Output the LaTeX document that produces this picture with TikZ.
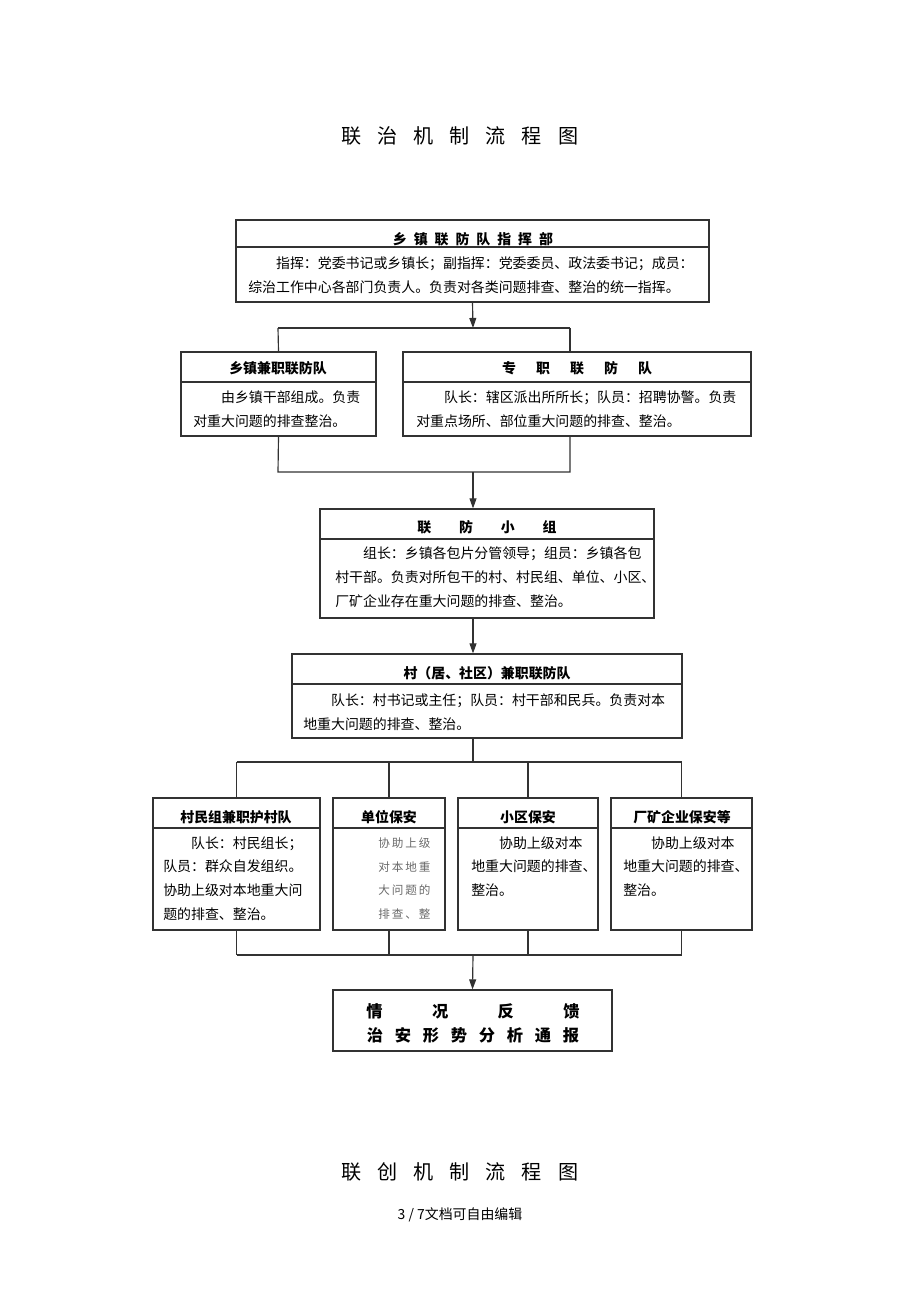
\documentclass[tikz,border=0pt]{standalone}
\usepackage{fontspec}
\usetikzlibrary{arrows.meta}
\usetikzlibrary{fit}
\newfontfamily\cjk{Noto Sans CJK SC}
\definecolor{linegray}{RGB}{50,50,50}
\definecolor{textgray}{RGB}{105,105,105}

\begin{document}
\begin{tikzpicture}[x=0.6468pt, y=-0.6468pt,
    frame/.style={draw=linegray, line width=0.75pt, inner sep=0pt},
    head/.style={font=\cjk\bfseries\fontsize{9}{11}\selectfont, inner sep=0pt},
    body/.style={font=\cjk\fontsize{9}{15.5}\selectfont, align=left, anchor=north west, inner sep=0pt},
    title/.style={font=\cjk\fontsize{13}{15}\selectfont, inner sep=0pt},
    link/.style={draw=linegray, line width=0.75pt},
    arr/.style={link, -{Triangle[width=4.5pt,length=6.5pt]}}]
\useasboundingbox (0,0) rectangle (920,1302);

% page title
\node[title] (title1) at (460,136) {联\hspace{10.3pt}治\hspace{10.3pt}机\hspace{10.3pt}制\hspace{10.3pt}流\hspace{10.3pt}程\hspace{10.3pt}图};

% command post
\node[frame, fit={(236,220) (709,302)}] (hq) {};
\draw[link] (hq.west |- 0,247) -- (hq.east |- 0,247);
\node[head] (hqh) at (473,239) {乡\hspace{4.5pt}镇\hspace{4.5pt}联\hspace{4.5pt}防\hspace{4.5pt}队\hspace{4.5pt}指\hspace{4.5pt}挥\hspace{4.5pt}部};
\node[body] (hqb) at (248,257) {\hspace*{2em}指挥：党委书记或乡镇长；副指挥：党委委员、政法委书记；成员：\\综治工作中心各部门负责人。负责对各类问题排查、整治的统一指挥。};

% second row
\node[frame, fit={(181,352) (376,436)}] (lbox) {};
\draw[link] (lbox.west |- 0,382) -- (lbox.east |- 0,382);
\node[head] (lboxh) at (278,368) {乡镇兼职联防队};
\node[body] (lboxb) at (193,390) {\hspace*{2em}由乡镇干部组成。负责\\对重大问题的排查整治。};

\node[frame, fit={(403,352) (751,436)}] (rbox) {};
\draw[link] (rbox.west |- 0,382) -- (rbox.east |- 0,382);
\node[head] (rboxh) at (577,368) {专\hspace{13pt}职\hspace{13pt}联\hspace{13pt}防\hspace{13pt}队};
\node[body] (rboxb) at (416,390) {\hspace*{2em}队长：辖区派出所所长；队员：招聘协警。负责\\对重点场所、部位重大问题的排查、整治。};

% joint group
\node[frame, fit={(320,509) (654,618)}] (unit) {};
\draw[link] (unit.west |- 0,539) -- (unit.east |- 0,539);
\node[head] (unith) at (487,527) {联\hspace{18pt}防\hspace{18pt}小\hspace{18pt}组};
\node[body] (unitb) at (335,546) {\hspace*{2em}组长：乡镇各包片分管领导；组员：乡镇各包\\村干部。负责对所包干的村、村民组、单位、小区、\\厂矿企业存在重大问题的排查、整治。};

% village team
\node[frame, fit={(292,654) (682,738)}] (vill) {};
\draw[link] (vill.west |- 0,684) -- (vill.east |- 0,684);
\node[head] (villh) at (487,673) {村（居、社区）兼职联防队};
\node[body] (villb) at (303,693) {\hspace*{2em}队长：村书记或主任；队员：村干部和民兵。负责对本\\地重大问题的排查、整治。};

% bottom row
\node[frame, fit={(153,798) (320,930)}] (b1) {};
\node[frame, fit={(333,798) (445,930)}] (b2) {};
\node[frame, fit={(458,798) (598,930)}] (b3) {};
\node[frame, fit={(611,798) (752,930)}] (b4) {};
\foreach \b in {b1,b2,b3,b4}
    \draw[link] (\b.west |- 0,828) -- (\b.east |- 0,828);
\node[head] (b1h) at (236,817) {村民组兼职护村队};
\node[head] (b2h) at (389,817) {单位保安};
\node[head] (b3h) at (528,817) {小区保安};
\node[head] (b4h) at (682,817) {厂矿企业保安等};
\node[body] (b1b) at (163,836) {\hspace*{2em}队长：村民组长；\\队员：群众自发组织。\\协助上级对本地重大问\\题的排查、整治。};
\node[body, font=\cjk\fontsize{7.5}{15.5}\selectfont, text=textgray] (b2b) at (378,837) {协\,助\,上\,级\\对\,本\,地\,重\\大\,问\,题\,的\\排\,查\,、\,整};
\node[body] (b3b) at (471,836) {\hspace*{2em}协助上级对本\\地重大问题的排查、\\整治。};
\node[body] (b4b) at (623,836) {\hspace*{2em}协助上级对本\\地重大问题的排查、\\整治。};

% feedback
\node[frame, fit={(333,990) (612,1051)}] (report) {};
\node[inner sep=0pt, align=center, font=\cjk\bfseries\fontsize{10.5}{15.5}\selectfont] (reportt) at (473,1023)
    {情\hspace{32pt}况\hspace{32pt}反\hspace{32pt}馈\\治\hspace{7.6pt}安\hspace{7.6pt}形\hspace{7.6pt}势\hspace{7.6pt}分\hspace{7.6pt}析\hspace{7.6pt}通\hspace{7.6pt}报};

% connectors
\coordinate (s1) at (473,328);
\coordinate (s1l) at (278,328);
\coordinate (s1r) at (570,328);
\draw[arr] (hq.south) -- (s1);
\draw[link] (s1l) -- (s1r);
\draw[link] (s1l) -- (lbox.north);
\draw[link] (s1r) -- (s1r |- rbox.north);

\coordinate (s2) at (473,472);
\coordinate (s2l) at (278,472);
\coordinate (s2r) at (570,472);
\draw[link] (lbox.south) -- (s2l) -- (s2r) -- (s2r |- rbox.south);
\draw[arr] (s2) -- (s2 |- unit.north);

\draw[arr] (unit.south -| s2) -- (vill.north -| s2);

\coordinate (s3) at (473,762);
\draw[link] (vill.south -| s3) -- (s3);
\draw[link] (b1.north |- s3) -- (b4.north |- s3);
\foreach \b in {b1,b2,b3,b4}
    \draw[link] (\b.north |- s3) -- (\b.north);

\coordinate (s4) at (473,955);
\draw[link] (b1.south |- s4) -- (b4.south |- s4);
\foreach \b in {b1,b2,b3,b4}
    \draw[link] (\b.south) -- (\b.south |- s4);
\draw[arr] (s4) -- (report.north);

% bottom title and footer
\node[title] (title2) at (460,1172) {联\hspace{10.3pt}创\hspace{10.3pt}机\hspace{10.3pt}制\hspace{10.3pt}流\hspace{10.3pt}程\hspace{10.3pt}图};
\node[inner sep=0pt, font=\cjk\fontsize{9}{11}\selectfont] (footer) at (460,1215) {3 / 7文档可自由编辑};
\end{tikzpicture}
\end{document}
